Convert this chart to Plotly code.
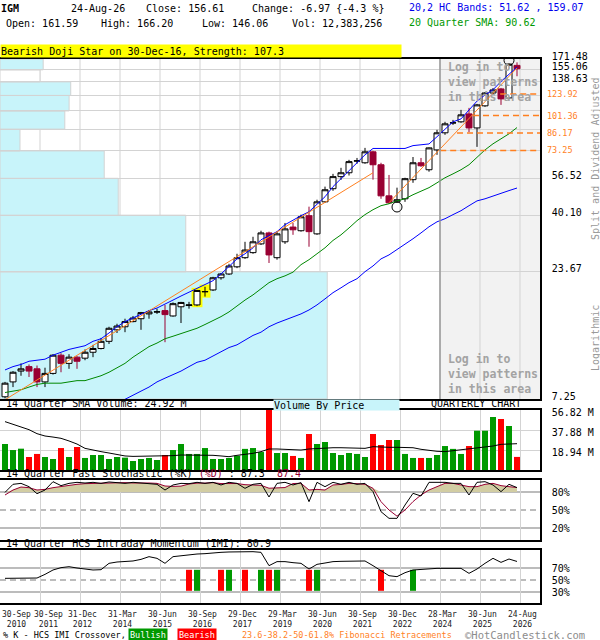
import math
import plotly.graph_objects as go

# ---------------- data ----------------
ticker = "IGM"
last_date = "24-Aug-26"
pattern_text = "Bearish Doji Star on 30-Dec-16, Strength: 107.3"

open_ = [7.4, 8.5, 9.4, 9.8, 9.6, 8.5, 9.2, 10.9, 10.1, 10.7,
         10.6, 11.2, 11.6, 12.4, 13.8, 14.2, 14.9, 15.3, 16.0, 16.28,
         16.5, 15.7, 17.1, 17.3, 17.4, 19.65, 20.0, 22.4, 23.2, 24.8,
         27.0, 28.3, 30.7, 34.0, 27.0, 31.3, 35.9, 34.7, 39.9, 33.7,
         45.4, 51.3, 57.4, 59.5, 66.3, 65.3, 72.3, 64.1, 48.0, 45.4,
         46.7, 55.8, 65.3, 61.2, 73.6, 86.3, 94.6, 95.6, 102.9, 90.3,
         110.9, 125.0, 129.8, 119.4, 161.59]
high = [8.5, 9.4, 10.1, 10.0, 9.9, 9.7, 11.0, 11.1, 11.0, 10.8,
        11.5, 12.0, 12.8, 14.2, 14.6, 15.3, 15.7, 16.3, 16.6, 16.8,
        17.4, 17.8, 17.9, 17.9, 20.0, 20.6, 22.6, 23.4, 25.5, 28.0,
        31.3, 32.8, 34.7, 34.4, 34.4, 37.3, 37.3, 40.3, 43.4, 46.3,
        52.3, 58.9, 62.3, 67.1, 68.3, 75.0, 73.0, 65.3, 58.3, 51.8,
        56.8, 68.9, 68.3, 75.3, 88.7, 95.6, 97.3, 106.8, 108.8, 112.9,
        126.1, 130.9, 131.0, 164.5, 166.20]
low = [7.3, 8.1, 9.0, 8.9, 8.1, 8.1, 9.1, 9.3, 9.6, 9.6,
       10.4, 10.7, 11.5, 12.1, 13.4, 13.5, 14.8, 13.8, 15.3, 16.0,
       12.3, 15.6, 14.7, 16.8, 17.2, 18.8, 19.8, 22.0, 23.0, 24.5,
       26.7, 28.0, 30.4, 25.7, 26.5, 30.7, 33.4, 34.4, 29.9, 33.4,
       45.0, 50.3, 55.7, 58.0, 64.7, 64.7, 55.8, 46.7, 44.6, 45.0,
       45.4, 54.2, 62.9, 60.1, 70.3, 84.7, 92.9, 94.7, 86.9, 75.7,
       109.9, 122.8, 111.9, 118.3, 146.06]
close_ = [8.4, 9.3, 9.6, 9.4, 8.5, 9.2, 10.9, 10.1, 10.7, 10.3,
          11.2, 11.6, 12.4, 14.0, 14.3, 14.9, 15.4, 16.2, 16.3, 16.32,
          15.9, 17.6, 17.8, 17.4, 19.9, 19.7, 22.4, 23.2, 25.0, 27.0,
          29.0, 31.3, 34.0, 27.7, 33.7, 35.3, 35.0, 39.5, 34.4, 45.4,
          50.8, 57.4, 59.5, 66.0, 66.5, 72.3, 64.1, 48.0, 45.0, 46.3,
          56.3, 65.3, 63.5, 75.0, 86.3, 93.8, 94.7, 102.0, 90.3, 111.9,
          125.0, 128.6, 118.3, 163.58, 156.61]

# volume in millions
volume = [24.6, 18.9, 20.2, 12.3, 15.2, 12.3, 10.4, 20.8, 12.3, 21.8,
          11.4, 14.2, 14.2, 10.4, 12.3, 11.7, 8.5, 10.4, 11.4, 9.5,
          14.2, 18.9, 24.6, 15.2, 15.2, 20.8, 10.4, 10.4, 11.4, 13.6,
          20.0, 20.8, 17.0, 56.8, 16.1, 16.1, 13.3, 11.4, 34.1, 24.6,
          26.5, 16.1, 14.2, 16.1, 15.2, 12.3, 34.1, 23.7, 28.4, 28.4,
          15.2, 11.4, 11.4, 11.4, 14.2, 22.7, 20.0, 15.2, 22.7, 37.2,
          37.2, 50.2, 48.3, 41.7, 12.383256]
vol_sma = [45.8, 43.2, 40.7, 38.2, 34.4, 32.2, 31.2, 30.0, 27.5, 24.6,
           20.5, 18.6, 17.4, 16.1, 14.8, 13.3, 12.9, 12.9, 12.9, 12.9,
           13.1, 13.6, 14.2, 14.2, 14.2, 14.2, 13.9, 13.3, 12.6, 13.9,
           14.8, 15.8, 17.4, 19.9, 19.9, 19.6, 18.9, 18.9, 19.9, 20.5,
           21.1, 21.1, 21.1, 21.1, 21.1, 20.5, 22.1, 21.5, 21.5, 21.5,
           21.5, 21.1, 19.6, 18.3, 17.7, 17.4, 18.3, 18.9, 19.6, 20.5,
           21.5, 22.7, 24.3, 24.9, 24.92]

upper_band = [9.5, 9.8, 10.0, 10.3, 10.4, 10.5, 10.9, 11.2, 11.5, 11.7,
              11.9, 12.4, 12.7, 13.4, 14.2, 14.9, 15.4, 16.0, 16.5, 16.9,
              17.6, 18.2, 18.9, 19.6, 20.4, 21.0, 21.8, 23.2, 25.0, 26.7,
              28.0, 29.6, 31.9, 33.1, 34.4, 36.7, 38.4, 39.9, 41.4, 44.2,
              47.6, 52.3, 56.3, 60.6, 65.3, 70.3, 74.6, 74.6, 74.6, 74.6,
              74.6, 76.6, 77.1, 77.8, 83.2, 89.5, 95.6, 98.2, 106.8, 115.9,
              122.7, 128.8, 139.1, 149.2, 159.07]
lower_band = [None] * 13 + [6.7, 6.95,
              7.2, 7.5, 7.8, 8.1, 8.5, 8.8, 9.1, 9.4, 9.8, 10.2,
              10.4, 10.8, 11.2, 11.7, 12.0, 12.5, 13.1, 13.5, 14.2, 14.7,
              15.1, 15.6, 16.0, 16.6, 17.4, 18.4, 19.5, 20.4, 21.4, 22.2,
              23.7, 25.0, 26.7, 27.7, 29.1, 30.4, 32.2, 34.0, 36.0, 37.7,
              38.8, 40.3, 41.8, 43.8, 45.8, 46.7, 48.0, 49.4, 50.4, 51.62]
sma20 = [7.7, 7.8, 7.9, 8.1, 8.3, 8.4, 8.4, 8.4, 8.5, 8.6,
         8.6, 8.8, 9.0, 9.3, 9.7, 10.1, 10.7, 11.2, 11.8, 12.2,
         12.7, 13.0, 13.3, 13.7, 14.0, 14.5, 15.0, 15.6, 16.3, 17.3,
         18.2, 19.1, 20.2, 21.4, 22.2, 22.8, 23.6, 25.3, 26.5, 28.0,
         29.6, 31.7, 33.4, 35.6, 38.1, 40.3, 42.2, 43.8, 44.6, 45.8,
         46.7, 48.5, 50.3, 51.8, 54.2, 56.8, 58.9, 61.2, 64.1, 69.0,
         73.6, 77.9, 81.6, 85.5, 90.62]

stoch_k = [79.4, 92.8, 94.4, 88.9, 77.2, 83.3, 97.2, 90.6, 94.4, 96.1,
           95.0, 96.1, 94.4, 96.7, 95.6, 94.4, 96.1, 95.0, 93.9, 92.8,
           83.3, 91.7, 94.4, 93.9, 96.1, 94.4, 96.1, 91.7, 96.1, 94.4,
           86.1, 92.8, 94.4, 71.7, 94.4, 96.1, 91.7, 95.6, 63.9, 96.1,
           88.9, 96.1, 92.8, 96.1, 92.8, 94.4, 80.6, 47.2, 36.1, 36.1,
           58.3, 77.8, 73.3, 96.1, 96.1, 96.1, 94.4, 94.4, 75.0, 96.1,
           97.2, 91.7, 80.6, 92.8, 87.3]
stoch_d = [75.0, 83.3, 88.3, 87.2, 83.3, 84.4, 87.2, 89.4, 90.6, 92.8,
           93.9, 94.4, 95.0, 95.0, 95.6, 95.6, 95.0, 95.6, 95.0, 94.4,
           90.0, 89.3, 89.8, 93.3, 94.8, 94.8, 95.5, 94.1, 94.6, 94.1,
           92.2, 91.1, 91.1, 86.3, 86.8, 87.4, 94.1, 94.5, 83.3, 84.4,
           83.3, 91.7, 92.6, 94.4, 93.9, 92.8, 86.1, 63.9, 50.0, 39.7,
           50.0, 64.0, 75.0, 83.3, 88.9, 94.4, 94.4, 91.7, 88.9, 88.9,
           92.8, 94.4, 90.6, 88.9, 87.4]
imi = [52.8, 52.8, 52.8, 52.8, 53.3, 59.4, 66.7, 70.6, 72.2, 70.0,
       67.8, 66.7, 67.2, 77.8, 80.0, 80.6, 81.7, 84.4, 88.9, 86.1,
       77.8, 88.9, 90.6, 91.7, 93.3, 93.9, 95.6, 96.1, 96.7, 97.2,
       97.2, 97.2, 96.1, 73.9, 80.6, 80.6, 78.9, 77.8, 68.3, 76.1,
       78.3, 80.6, 81.1, 81.7, 81.7, 81.7, 73.9, 65.0, 57.2, 55.6,
       62.2, 66.7, 67.8, 68.9, 69.4, 69.4, 69.4, 69.4, 61.1, 68.3,
       77.8, 86.1, 79.4, 85.0, 80.9]

crossover_idx = [23, 24, 27, 28, 30, 32, 33, 34, 38, 39, 47, 51]
crossover_type = ["bear", "bull", "bear", "bull", "bear", "bull",
                  "bear", "bull", "bear", "bull", "bear", "bull"]

pattern_idx = [24, 25]
circle_low_idx = [49]
circle_high_idx = [63]

trend1_x = [0, 46]
trend1_y = [7.2, 59.5]
trend2_x = [48, 64]
trend2_y = [45.0, 157.8]

fib_levels = [123.92, 101.36, 86.17, 73.25]
fib_from = [61.9, 58.5, 56.5, 54.4]

price_levels = [7.25, 23.67, 40.10, 56.52, 72.91, 89.34, 105.77, 122.20, 138.63, 155.06, 171.48]
price_labels = ["7.25", "23.67", "40.10", "56.52", "", "", "", "", "138.63", "155.06", "171.48"]
# volume-by-price, % of panel width, per price bin (bottom to top)
vbp_pct = [60.6, 34.4, 21.9, 19.3, 3.7, 12.0, 12.8, 13.1, 7.4, 8.0]
vbp_empty = [False, False, False, False, False, False, False, False, True, False]

vol_ticks = [18.94, 37.88, 56.82]
xtick_labels = ["30-Sep-2010", "30-Sep-2011", "31-Dec-2012", "31-Mar-2014", "30-Jun-2015",
                "30-Sep-2016", "29-Dec-2017", "29-Mar-2019", "30-Jun-2020", "30-Sep-2021",
                "30-Dec-2022", "28-Mar-2024", "30-Jun-2025", "24-Aug-2026"]

# ---------------- styling ----------------
MONO = "DejaVu Sans Mono"
W, H = 600, 640
CANDLE_RED = "#990033"
GREEN = "#009900"
RED = "#ff0000"
ORANGE = "#ff7f1f"
GRID = "#d3d3d3"
CYAN = "#c8f4fa"

n = len(close_)
idx = list(range(n))
X_LO, X_HI = -0.625, n + 1.875
L10 = math.log10


def px(x):
    return x / W


def py(y):
    return 1 - y / H


fig = go.Figure()

# bands and averages
fig.add_trace(go.Scatter(x=idx, y=upper_band, mode="lines", line=dict(color="#0000ff", width=1),
                         hoverinfo="skip", showlegend=False, xaxis="x", yaxis="y"))
fig.add_trace(go.Scatter(x=idx, y=lower_band, mode="lines", line=dict(color="#0000ff", width=1),
                         hoverinfo="skip", showlegend=False, xaxis="x", yaxis="y"))
fig.add_trace(go.Scatter(x=idx, y=sma20, mode="lines", line=dict(color="#008800", width=1),
                         hoverinfo="skip", showlegend=False, xaxis="x", yaxis="y"))
for tx, ty in ((trend1_x, trend1_y), (trend2_x, trend2_y)):
    fig.add_trace(go.Scatter(x=tx, y=ty, mode="lines", line=dict(color=ORANGE, width=1),
                             hoverinfo="skip", showlegend=False, xaxis="x", yaxis="y"))
for lv, x0 in zip(fib_levels, fib_from):
    fig.add_trace(go.Scatter(x=[x0, X_HI], y=[lv, lv], mode="lines",
                             line=dict(color=ORANGE, width=1.5, dash="6px,4px"),
                             hoverinfo="skip", showlegend=False, xaxis="x", yaxis="y"))

# candles
fig.add_trace(go.Candlestick(
    x=idx, open=open_, high=high, low=low, close=close_,
    increasing=dict(line=dict(color="black", width=1), fillcolor="white"),
    decreasing=dict(line=dict(color=CANDLE_RED, width=1), fillcolor=CANDLE_RED),
    whiskerwidth=0, hoverinfo="skip", showlegend=False, xaxis="x", yaxis="y"))

# pattern circles
fig.add_trace(go.Scatter(
    x=circle_low_idx + circle_high_idx,
    y=[low[i] / 1.04 for i in circle_low_idx] + [high[i] * 1.03 for i in circle_high_idx],
    mode="markers", marker=dict(symbol="circle-open", size=10, color="black", line=dict(width=1)),
    hoverinfo="skip", showlegend=False, xaxis="x", yaxis="y"))

# volume panel
vol_colors = [RED if c < o else GREEN for o, c in zip(open_, close_)]
fig.add_trace(go.Bar(x=idx, y=volume, width=0.75, marker=dict(color=vol_colors, line=dict(width=0)),
                     hoverinfo="skip", showlegend=False, xaxis="x2", yaxis="y2"))
fig.add_trace(go.Scatter(x=idx, y=vol_sma, mode="lines", line=dict(color="black", width=1),
                         hoverinfo="skip", showlegend=False, xaxis="x2", yaxis="y2"))

# stochastic panel
fig.add_trace(go.Scatter(x=idx, y=[80] * n, mode="lines", line=dict(width=0),
                         hoverinfo="skip", showlegend=False, xaxis="x3", yaxis="y3"))
fig.add_trace(go.Scatter(x=idx, y=[max(d, 80) for d in stoch_d], mode="lines", line=dict(width=0),
                         fill="tonexty", fillcolor="#d2cda3",
                         hoverinfo="skip", showlegend=False, xaxis="x3", yaxis="y3"))
fig.add_trace(go.Scatter(x=idx, y=stoch_d, mode="lines", line=dict(color=CANDLE_RED, width=1),
                         hoverinfo="skip", showlegend=False, xaxis="x3", yaxis="y3"))
fig.add_trace(go.Scatter(x=idx, y=stoch_k, mode="lines", line=dict(color="black", width=1),
                         hoverinfo="skip", showlegend=False, xaxis="x3", yaxis="y3"))

# IMI panel
fig.add_trace(go.Bar(x=crossover_idx, y=[35] * len(crossover_idx), base=32, width=0.75,
                     marker=dict(color=[GREEN if t == "bull" else RED for t in crossover_type],
                                 line=dict(width=0)),
                     hoverinfo="skip", showlegend=False, xaxis="x4", yaxis="y4"))
fig.add_trace(go.Scatter(x=idx, y=imi, mode="lines", line=dict(color="black", width=1),
                         hoverinfo="skip", showlegend=False, xaxis="x4", yaxis="y4"))

# ---------------- axes ----------------
dom_x = [0, 540 / W]
xcommon = dict(range=[X_LO, X_HI], showgrid=True, gridcolor=GRID, gridwidth=1,
               tick0=X_LO, dtick=5, showticklabels=False, ticks="", zeroline=False,
               showline=True, mirror=True, linecolor="black", linewidth=1.5, domain=dom_x,
               fixedrange=True)
ycommon = dict(side="right", showline=True, mirror=True, linecolor="black", linewidth=1.5,
               ticks="", zeroline=False, automargin=False, ticklabelstandoff=8,
               tickfont=dict(family=MONO, size=10, color="black"), fixedrange=True)

fig.update_layout(
    width=W, height=H, margin=dict(l=0, r=0, t=0, b=0), autosize=False,
    paper_bgcolor="white", plot_bgcolor="white", showlegend=False,
    boxgap=0.25, boxgroupgap=0, barmode="overlay",
    xaxis=dict(**{**xcommon, "showgrid": False}, anchor="y", rangeslider=dict(visible=False)),
    xaxis2=dict(**xcommon, anchor="y2", matches="x"),
    xaxis3=dict(**xcommon, anchor="y3", matches="x"),
    xaxis4=dict(**xcommon, anchor="y4", matches="x"),
    yaxis=dict(**ycommon, anchor="x", domain=[py(399), py(59)], type="log",
               range=[L10(price_levels[0]), L10(price_levels[-1])],
               tickvals=price_levels, ticktext=price_labels, showgrid=True,
               gridcolor=GRID, ticklabelshift=-3),
    yaxis2=dict(**ycommon, anchor="x2", domain=[py(470), py(410)], range=[0, vol_ticks[-1]],
                tickvals=vol_ticks, ticktext=["%.2f M" % v for v in vol_ticks],
                showgrid=True, gridcolor=GRID, ticklabelshift=2),
    yaxis3=dict(**ycommon, anchor="x3", domain=[py(540), py(480)], range=[0, 100],
                tickvals=[20, 50, 80], ticktext=["20%", "50%", "80%"], showgrid=False),
    yaxis4=dict(**ycommon, anchor="x4", domain=[py(603), py(550)], range=[11.7, 100],
                tickvals=[30, 50, 70], ticktext=["30%", "50%", "70%"], showgrid=False),
)

# ---------------- shapes (below traces) ----------------
login_x = X_LO + 55  # gridline position where the locked area starts
fig.add_shape(type="rect", xref="x", yref="y domain", x0=login_x, x1=X_HI, y0=0, y1=1,
              fillcolor="#f2f2f2", line=dict(width=0), layer="below")
# vertical grid of the price panel
for k in range(1, 14):
    gx = X_LO + 5 * k
    fig.add_shape(type="line", xref="x", yref="y domain", x0=gx, x1=gx, y0=0, y1=1,
                  line=dict(color=GRID, width=1), layer="below")
# volume by price bars
for k in range(len(vbp_pct)):
    lo, hi = price_levels[k], price_levels[k + 1]
    xr = X_LO + vbp_pct[k] / 100 * (X_HI - X_LO)
    fig.add_shape(type="rect", xref="x", yref="y", x0=X_LO, x1=xr, y0=lo, y1=hi,
                  fillcolor="white" if vbp_empty[k] else CYAN,
                  line=dict(color=GRID, width=1), layer="below")
# pattern highlight
for i in pattern_idx:
    fig.add_shape(type="rect", xref="x", yref="y", x0=i - 0.68, x1=i + 0.68,
                  y0=low[i] / 1.01, y1=high[i] * 1.02,
                  fillcolor="#ffff00", line=dict(width=0), layer="below")
fig.add_shape(type="line", xref="x", yref="y domain", x0=login_x, x1=login_x, y0=0, y1=1,
              line=dict(color="#999999", width=1.5), layer="above")
for xr_, yr, lines in (("x3", "y3", (80, 50, 20)), ("x4", "y4", (70, 50, 30))):
    for j, lv in enumerate(lines):
        fig.add_shape(type="line", xref=xr_ + " domain", yref=yr,
                      x0=0, x1=1, y0=lv, y1=lv,
                      line=dict(color="#a6a6a6", width=1.5, dash="6px,4px" if j == 1 else "solid"),
                      layer="below")


# ---------------- text ----------------
def ann(text, x, y, size=10, color="black", xanchor="left", yanchor="middle", **kw):
    fig.add_annotation(text=text, x=px(x), y=py(y), xref="paper", yref="paper",
                       showarrow=False, xanchor=xanchor, yanchor=yanchor,
                       font=dict(family=MONO, size=size, color=color), **kw)


chg = close_[-1] - close_[-2]
pct = chg / close_[-2] * 100
ann("<b>%s</b>" % ticker, -1, 9)
ann(last_date, 69, 9)
ann("Close: %.2f" % close_[-1], 144, 9)
ann("Change: %.2f {%.1f %%}" % (chg, pct), 250, 9)
ann("Open: %.2f" % open_[-1], 4, 24)
ann("High: %.2f" % high[-1], 99, 24)
ann("Low: %.2f" % low[-1], 200, 24)
ann("Vol: {:,}".format(int(round(volume[-1] * 1e6))), 290, 24)
ann("20,2 HC Bands: %.2f , %.2f" % (lower_band[-1], upper_band[-1]), 407, 7, color="#0000ee")
ann("20 Quarter SMA: %.2f" % sma20[-1], 407, 22, color=GREEN)
ann(pattern_text, 0, 51, bgcolor="#ffff00", width=400, height=12, align="left", borderpad=0)

# locked-area notes
for j, line in enumerate(["Log in to", "view patterns", "in this area"]):
    ann("<b>%s</b>" % line, 446, 67 + 15 * j, size=11.5, color="#a3a3a3")
    ann("<b>%s</b>" % line, 446, 359 + 15 * j, size=11.5, color="#a3a3a3")

# fib labels
for lv in fib_levels:
    fig.add_annotation(text="%.2f" % lv, x=px(545), xref="paper", y=L10(lv), yref="y",
                       showarrow=False, xanchor="left", yanchor="middle",
                       font=dict(family=MONO, size=8.5, color=ORANGE))

ann("Split and Dividend Adjusted", 595, 159, color="#999999", xanchor="center", textangle=-90)
ann("Logarithmic", 595, 338, color="#999999", xanchor="center", textangle=-90)

# panel titles
ann("14 Quarter SMA Volume: %.2f M" % vol_sma[-1], 4, 403)
ann("Volume By Price", 273, 405, bgcolor=CYAN, width=125, height=10, align="left", borderpad=0)
ann("QUARTERLY CHART", 429, 403)
ann("14 Quarter Fast Stochastic (%%K) <span style='color:%s'>(%%D)</span> : %.1f\u00a0\u00a0<span style='color:%s'>%.1f</span>"
    % (CANDLE_RED, stoch_k[-1], CANDLE_RED, stoch_d[-1]), 4, 473.5)
ann("14 Quarter HCS Intraday Momentum (IMI): %.1f" % imi[-1], 4, 543.5)

# date labels under the grid
for k, lab in enumerate(xtick_labels):
    d, y = lab.rsplit("-", 1)
    kw = dict(xanchor="left", xshift=0) if k == 0 else dict(xanchor="center", xshift=8 if k == 1 else 2.5)
    fig.add_annotation(text="%s<br>%s" % (d, y), x=X_LO + 5 * k, xref="x4", y=py(619), yref="paper",
                       showarrow=False, yanchor="middle", align="center",
                       font=dict(family=MONO, size=8, color="#222222"), **kw)

# legend row
ann("% K - HCS IMI Crossover,", 1, 635, size=8.5)
ann("Bullish", 128, 635, size=8.5, color="white", bgcolor=GREEN, borderpad=1)
ann("Bearish", 177, 635, size=8.5, color="white", bgcolor=RED, borderpad=1)
ann("23.6-38.2-50-61.8% Fibonacci Retracements", 240, 635, size=8.5, color=ORANGE)
ann("\u00a9HotCandlestick.com", 463, 635, size=10.5, color="#8c8c8c")

fig.write_html("out.html", config={"displayModeBar": False},
               post_script="document.body.style.margin='0';")
